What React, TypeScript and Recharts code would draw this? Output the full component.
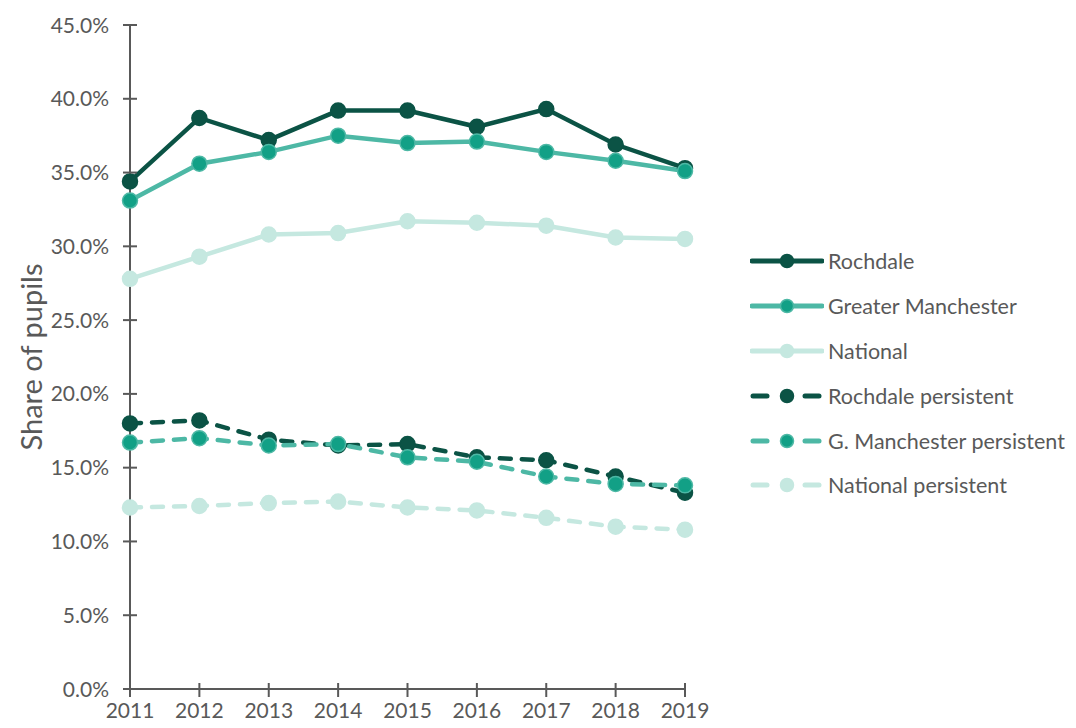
import { Label, Line, LineChart, XAxis, YAxis } from "recharts";

const years = ["2011", "2012", "2013", "2014", "2015", "2016", "2017", "2018", "2019"];

const rochdale = [34.4, 38.7, 37.2, 39.2, 39.2, 38.1, 39.3, 36.9, 35.3];
const greaterManchester = [33.1, 35.6, 36.4, 37.5, 37.0, 37.1, 36.4, 35.8, 35.1];
const national = [27.8, 29.3, 30.8, 30.9, 31.7, 31.6, 31.4, 30.6, 30.5];
const rochdalePersistent = [18.0, 18.2, 16.9, 16.5, 16.6, 15.7, 15.5, 14.4, 13.3];
const gmPersistent = [16.7, 17.0, 16.5, 16.6, 15.7, 15.4, 14.4, 13.9, 13.8];
const nationalPersistent = [12.3, 12.4, 12.6, 12.7, 12.3, 12.1, 11.6, 11.0, 10.8];

const yTicks = [0, 5, 10, 15, 20, 25, 30, 35, 40, 45];

const FONT = "Lato, 'Noto Sans', sans-serif";
const TEXT = "#595959";
const AXIS = "#595959";

type Series = {
  key: string;
  name: string;
  values: number[];
  line: string;
  dot: string;
  dotStroke: string;
  dashed: boolean;
};

const series: Series[] = [
  { key: "rochdale", name: "Rochdale", values: rochdale, line: "#0b5345", dot: "#0b5345", dotStroke: "#0b5345", dashed: false },
  { key: "gm", name: "Greater Manchester", values: greaterManchester, line: "#4db8a5", dot: "#12a086", dotStroke: "#4db8a5", dashed: false },
  { key: "national", name: "National", values: national, line: "#c5e8e0", dot: "#c5e8e0", dotStroke: "#c5e8e0", dashed: false },
  { key: "rochdaleP", name: "Rochdale persistent", values: rochdalePersistent, line: "#0b5345", dot: "#0b5345", dotStroke: "#0b5345", dashed: true },
  { key: "gmP", name: "G. Manchester persistent", values: gmPersistent, line: "#4db8a5", dot: "#12a086", dotStroke: "#4db8a5", dashed: true },
  { key: "nationalP", name: "National persistent", values: nationalPersistent, line: "#c5e8e0", dot: "#c5e8e0", dotStroke: "#c5e8e0", dashed: true }
];

const data = years.map((year, i) => {
  const row: Record<string, string | number> = { year };
  series.forEach((s) => {
    row[s.key] = s.values[i];
  });
  return row;
});

// tick marks cross the axis line, so they are drawn together with the label
const X_GAP = 14;
const Y_GAP = 21;

function XTick({ x, y, payload }: any) {
  const axisY = y - X_GAP;
  return (
    <g>
      <line x1={x} y1={axisY - 6} x2={x} y2={axisY + 8} stroke={AXIS} strokeWidth={2} />
      <text x={x} y={y} dy="0.71em" textAnchor="middle" fill={TEXT} fontSize={21} fontFamily={FONT}>
        {payload.value}
      </text>
    </g>
  );
}

function YTick({ x, y, payload }: any) {
  const axisX = x + Y_GAP;
  return (
    <g>
      <line x1={axisX - 7} y1={y} x2={axisX + 7} y2={y} stroke={AXIS} strokeWidth={2} />
      <text x={x} y={y} dy="0.36em" textAnchor="end" fill={TEXT} fontSize={21} fontFamily={FONT}>
        {`${payload.value.toFixed(1)}%`}
      </text>
    </g>
  );
}

function LegendIcon({ s }: { s: Series }) {
  return (
    <svg width={74} height={16} style={{ display: "block" }}>
      {s.dashed ? (
        <>
          <line x1={3} y1={8} x2={17} y2={8} stroke={s.line} strokeWidth={5} strokeLinecap="round" />
          <line x1={55} y1={8} x2={69} y2={8} stroke={s.line} strokeWidth={5} strokeLinecap="round" />
        </>
      ) : (
        <line x1={2} y1={8} x2={72} y2={8} stroke={s.line} strokeWidth={5} strokeLinecap="round" />
      )}
      <circle cx={37} cy={8} r={6.5} fill={s.dot} stroke={s.dotStroke} strokeWidth={1.5} />
    </svg>
  );
}

function SeriesLegend() {
  return (
    <div style={{ position: "absolute", left: 750, top: 239, fontFamily: FONT }}>
      {series.map((s) => (
        <div key={s.key} style={{ display: "flex", alignItems: "center", height: 44.8 }}>
          <LegendIcon s={s} />
          <span style={{ marginLeft: 4, fontSize: 21.5, color: TEXT, whiteSpace: "nowrap" }}>{s.name}</span>
        </div>
      ))}
    </div>
  );
}

export default function App() {
  return (
    <div style={{ position: "relative", width: 1076, height: 728, margin: -8, background: "#fff", overflow: "hidden" }}>
      <LineChart
        width={1076}
        height={728}
        data={data}
        margin={{ top: 25, right: 391, bottom: 0, left: 0 }}
      >
        <XAxis
          dataKey="year"
          scale="point"
          padding={{ left: 0, right: 0 }}
          height={39}
          stroke={AXIS}
          strokeWidth={2}
          tickLine={false}
          tickSize={0}
          tickMargin={X_GAP}
          tick={<XTick />}
          interval={0}
        />
        <YAxis
          width={130}
          domain={[0, 45]}
          ticks={yTicks}
          stroke={AXIS}
          strokeWidth={2}
          tickLine={false}
          tickSize={0}
          tickMargin={Y_GAP}
          tick={<YTick />}
          interval={0}
        >
          <Label
            content={({ viewBox }: any) => {
              const cy = viewBox.y + viewBox.height / 2;
              return (
                <text
                  x={30}
                  y={cy}
                  transform={`rotate(-90 30 ${cy})`}
                  textAnchor="middle"
                  dominantBaseline="central"
                  fill={TEXT}
                  fontSize={29}
                  fontFamily={FONT}
                >
                  Share of pupils
                </text>
              );
            }}
          />
        </YAxis>
        {series.map((s) => (
          <Line
            key={s.key}
            dataKey={s.key}
            name={s.name}
            type="linear"
            stroke={s.line}
            strokeWidth={4.5}
            strokeLinecap="round"
            strokeDasharray={s.dashed ? "11 11" : undefined}
            dot={{ r: 7.5, fill: s.dot, stroke: s.dotStroke, strokeWidth: 1.5, strokeDasharray: "none" }}
            activeDot={false}
            isAnimationActive={false}
          />
        ))}
      </LineChart>
      <SeriesLegend />
    </div>
  );
}
